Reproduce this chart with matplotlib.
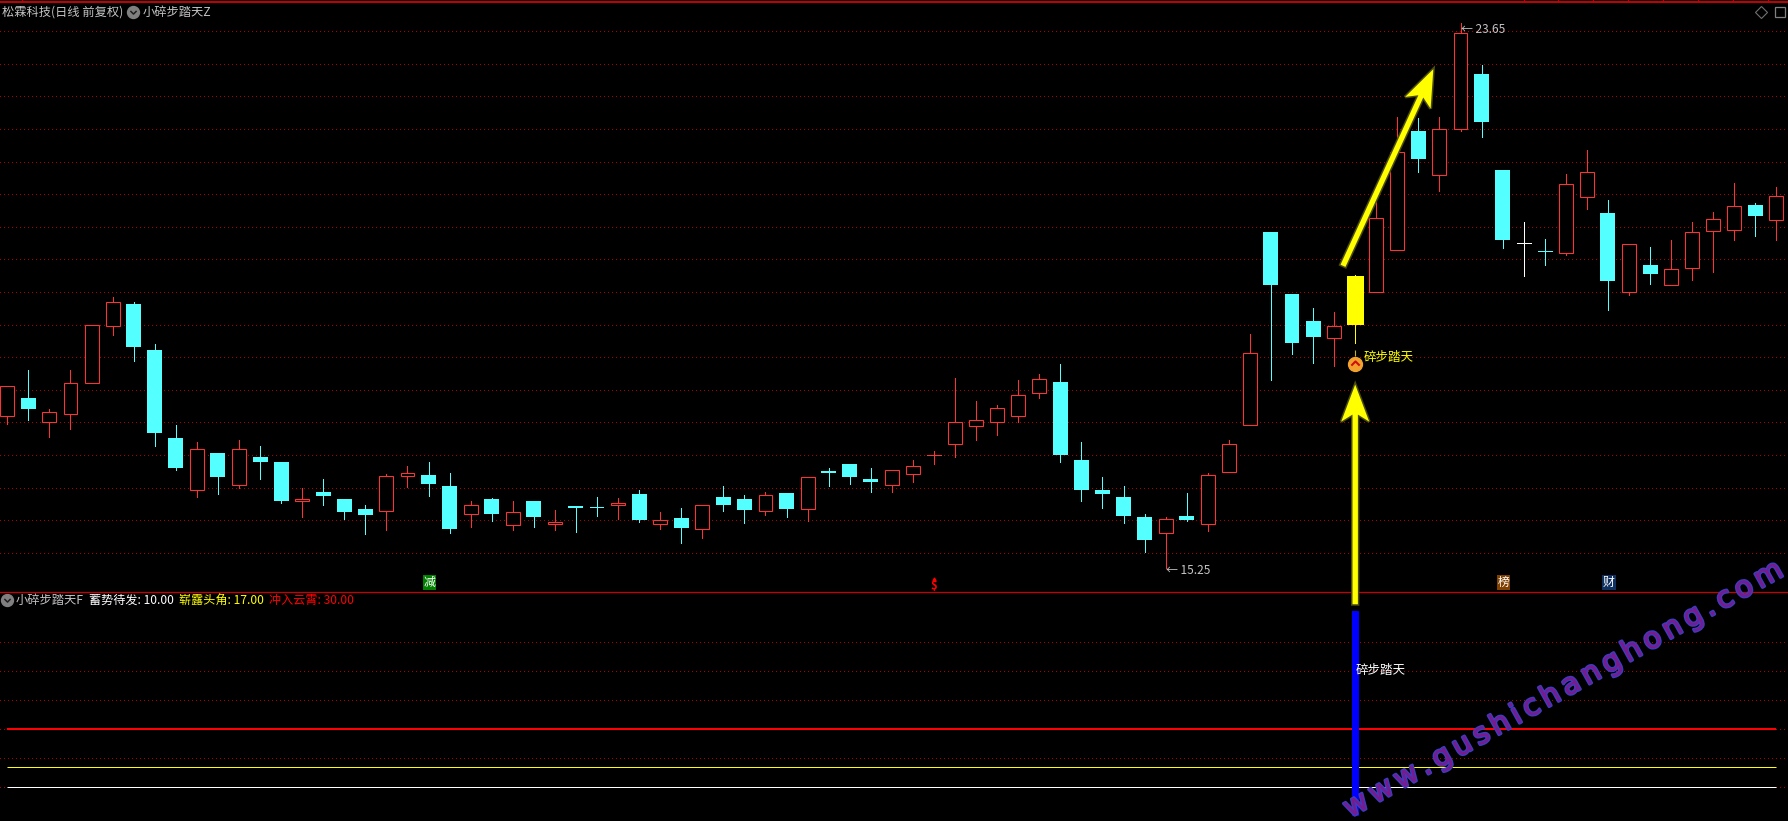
import numpy as np
import matplotlib
matplotlib.use("Agg")
import matplotlib.pyplot as plt
from matplotlib.font_manager import FontProperties
from matplotlib.lines import Line2D
from matplotlib.patches import Polygon
from matplotlib.path import Path
from matplotlib.transforms import IdentityTransform
import matplotlib.patheffects as pe

plt.rcParams['font.family'] = ['Noto Sans CJK SC', 'DejaVu Sans']

W, H = 1788, 821

opens = [17.60, 17.87, 17.50, 17.63, 18.10, 18.99, 19.32, 18.61, 17.25, 16.45,
         17.03, 16.54, 16.96, 16.88, 16.28, 16.43, 16.32, 16.17, 16.13, 16.67,
         16.69, 16.51, 16.08, 16.31, 15.91, 16.29, 15.93, 16.21, 16.20, 16.23,
         16.40, 15.93, 16.03, 15.86, 16.35, 16.32, 16.14, 16.41, 16.17, 16.75,
         16.86, 16.63, 16.53, 16.71, 17.00, 17.16, 17.44, 17.50, 17.59, 17.95,
         18.12, 16.92, 16.45, 16.35, 16.04, 15.80, 16.06, 15.93, 16.74, 17.46,
         20.43, 19.48, 19.06, 18.80, 19.75, 19.50, 20.15, 21.98, 21.31, 22.02,
         22.86, 21.39, 20.26, 20.14, 20.11, 20.97, 20.73, 19.51, 19.92, 19.62,
         19.88, 20.44, 20.46, 20.84, 20.61]
highs = [18.06, 18.30, 17.70, 18.30, 19.00, 19.43, 19.35, 18.70, 17.45, 17.19,
         17.03, 17.22, 17.14, 16.89, 16.48, 16.63, 16.32, 16.23, 16.71, 16.82,
         16.88, 16.72, 16.29, 16.34, 16.28, 16.29, 16.15, 16.21, 16.35, 16.34,
         16.46, 16.11, 16.18, 16.22, 16.52, 16.38, 16.43, 16.41, 16.66, 16.79,
         16.86, 16.80, 16.77, 16.92, 17.05, 18.18, 17.82, 17.77, 18.15, 18.25,
         18.39, 17.19, 16.66, 16.51, 16.09, 16.04, 16.41, 16.72, 17.23, 18.86,
         20.43, 19.48, 19.26, 19.20, 19.77, 20.94, 22.20, 22.18, 22.21, 23.65,
         23.00, 21.39, 20.59, 20.33, 21.33, 21.69, 20.93, 20.24, 20.20, 20.31,
         20.59, 20.74, 21.19, 20.87, 21.13]
lows = [17.47, 17.53, 17.28, 17.39, 18.10, 18.85, 18.44, 17.14, 16.77, 16.35,
        16.40, 16.49, 16.63, 16.26, 16.04, 16.23, 16.01, 15.78, 15.84, 16.50,
        16.37, 15.80, 15.89, 15.98, 15.84, 15.89, 15.84, 15.81, 16.06, 16.01,
        15.97, 15.86, 15.64, 15.72, 16.14, 15.94, 16.07, 16.04, 15.98, 16.52,
        16.55, 16.43, 16.43, 16.58, 16.85, 16.97, 17.23, 17.30, 17.51, 17.88,
        16.89, 16.28, 16.18, 15.95, 15.50, 15.25, 15.98, 15.83, 16.74, 17.46,
        18.15, 18.55, 18.41, 18.36, 18.72, 19.50, 20.15, 21.36, 21.07, 21.98,
        21.90, 20.19, 19.75, 19.92, 20.08, 20.79, 19.23, 19.46, 19.63, 19.62,
        19.69, 19.82, 20.30, 20.37, 20.30]
closes = [18.06, 17.70, 17.65, 18.11, 19.00, 19.35, 18.66, 17.34, 16.80, 17.09,
          16.66, 17.09, 16.89, 16.29, 16.32, 16.37, 16.11, 16.07, 16.67, 16.72,
          16.55, 15.86, 16.22, 16.09, 16.12, 16.04, 15.96, 16.18, 16.18, 16.26,
          16.00, 15.99, 15.87, 16.22, 16.23, 16.15, 16.38, 16.17, 16.66, 16.72,
          16.65, 16.58, 16.77, 16.83, 17.00, 17.51, 17.54, 17.72, 17.92, 18.16,
          17.00, 16.46, 16.40, 16.06, 15.69, 16.01, 16.00, 16.69, 17.17, 18.57,
          19.62, 18.72, 18.81, 18.99, 19.00, 20.65, 21.67, 21.56, 22.02, 23.49,
          22.12, 20.30, 20.26, 20.14, 21.17, 21.36, 19.68, 20.24, 19.79, 19.86,
          20.43, 20.63, 20.83, 20.67, 20.99]

# doji colours, the one yellow signal candle
doji_colors = {44: '#FF3232', 72: '#FFFFFF', 73: '#54FFFF'}
signal_index = 64

price_grid = [15.49, 15.99, 16.49, 17.00, 17.50, 18.00, 18.50, 19.00, 19.51,
              20.01, 20.51, 21.01, 21.51, 22.02, 22.52, 23.02, 23.52]
value_grid = [10, 20, 30, 40, 50, 60]

level_names = ['蓄势待发', '崭露头角', '冲入云霄']
level_values = [10.00, 17.00, 30.00]
level_colors = ['#FFFFFF', '#FFFF00', '#FF0000']
signal_value = 70.5

tag_index = [20, 71, 76]
tag_text = ['减', '榜', '财']
tag_colors = ['#007F00', '#804000', '#103060']

top_marks = [22, 1524, 1558, 1593, 1628, 1663, 1698, 1733, 1768]

RED = '#FF3232'
CYAN = '#54FFFF'
GRID = '#B00000'
FRAME = '#C80000'
TEXT = '#C4C4C4'
DOTS = (0, (1.1, 3.7))


def px(x, y):
    return x / W, 1 - y / H


def icon(x, y):
    fig.add_artist(Line2D([x / W], [1 - y / H], marker='o', ms=8.6, mfc='#808080', mec='#808080',
                          transform=fig.transFigure, ls=''))
    chevron = Path([(-1, 0.5), (0, -0.5), (1, 0.5)])
    fig.add_artist(Line2D([x / W], [1 - y / H], marker=chevron, ms=4.5, mfc='none', mec='#202020', mew=1.1,
                          transform=fig.transFigure, ls=''))


def big_arrow(start, tip):
    # start and tip are in display pixels
    start = np.array(start)
    tip = np.array(tip)
    d = (tip - start) / np.linalg.norm(tip - start)
    n = np.array([-d[1], d[0]])
    base = tip - d * 37
    notch = tip - d * 30
    pts = [start + n * 2.7, notch + n * 2.7, base + n * 14, tip, base - n * 14, notch - n * 2.7, start - n * 2.7]
    fig.add_artist(Polygon(pts, closed=True, facecolor='none', edgecolor='#4A4A14', linewidth=2.2,
                           transform=IdentityTransform(), zorder=6))
    fig.add_artist(Polygon(pts, closed=True, facecolor='#FFFF00', edgecolor='none',
                           transform=IdentityTransform(), zorder=6.1))


def spaced_watermark(text, start, end, size):
    # one text per letter, the letters are spread along the line start -> end
    prop = FontProperties(family='DejaVu Sans', size=size)
    r = fig.canvas.get_renderer()
    widths = [r.get_text_width_height_descent(ch, prop, False)[0] for ch in text]
    length = np.hypot(end[0] - start[0], end[1] - start[1])
    d = np.array([end[0] - start[0], end[1] - start[1]]) / length
    gap = (length - sum(widths)) / (len(text) - 1)
    angle = np.degrees(np.arctan2(start[1] - end[1], end[0] - start[0]))
    pos = 0
    for ch, w in zip(text, widths):
        x, y = np.array(start) + d * pos
        fig.text(*px(x, y), ch, color='#7A1A8C', fontproperties=prop, rotation=angle, rotation_mode='anchor',
                 ha='left', va='baseline', zorder=7,
                 path_effects=[pe.withStroke(linewidth=2.0, foreground='#3C3CC0')])
        pos += w + gap


fig = plt.figure(figsize=(W / 100, H / 100), dpi=100, facecolor='black')
ax = fig.add_axes([0, 1 - 591 / H, 1, 591 / H])
ax2 = fig.add_axes([0, 0, 1, (H - 592) / H])
x_range = (-0.347, 84.55)

for a in (ax, ax2):
    a.set_facecolor('black')
    a.set_xlim(x_range)
    a.set_xticks([])
    a.set_yticks([])
    for s in a.spines.values():
        s.set_visible(False)
ax.set_ylim(14.90, 24.005)
ax2.set_ylim(-1.56, 77)

# grid
for g in price_grid:
    ax.axhline(g, color=GRID, lw=0.6, ls=DOTS, zorder=1, antialiased=False)
for g in value_grid:
    ax2.axhline(g, color=GRID, lw=0.6, ls=DOTS, zorder=1, antialiased=False)

# candles
for i in range(len(opens)):
    o, h, l, c = opens[i], highs[i], lows[i], closes[i]
    if i == signal_index:
        col = '#FFFF00'
    elif i in doji_colors:
        col = doji_colors[i]
    elif c > o:
        col = RED
    else:
        col = CYAN
    ax.vlines(i, l, h, color=col, lw=0.72, zorder=2, antialiased=False)
    if o == c:
        ax.hlines(o, i - 0.33, i + 0.33, color=col, lw=0.72, zorder=3, antialiased=False)
    elif c > o:
        ax.bar(i, c - o, bottom=o, width=0.66, facecolor='black', edgecolor=col, linewidth=0.75, zorder=3)
    elif i == signal_index:
        ax.bar(i, o - c, bottom=c, width=0.8, facecolor=col, edgecolor='none', zorder=3)
    else:
        ax.bar(i, o - c, bottom=c, width=0.71, facecolor=col, edgecolor='none', zorder=3)

# frame lines
fig.add_artist(Line2D([0, 1], [1 - 2.5 / H] * 2, color=FRAME, lw=1.4, transform=fig.transFigure))
fig.add_artist(Line2D([0, 1], [1 - 591.5 / H] * 2, color=FRAME, lw=0.9, transform=fig.transFigure))
for m in top_marks:
    fig.add_artist(Line2D([m / W, m / W], [1, 1 - 2 / H], color=FRAME, lw=0.7, transform=fig.transFigure))

# indicator pane
n = len(opens) - 1
for value, col, width in zip(level_values, level_colors, [0.72, 0.72, 1.44]):
    ax2.plot([0, n], [value, value], color=col, lw=width, zorder=2, solid_capstyle='butt')
ax2.bar(signal_index, signal_value, width=0.34, color='#0000FF', zorder=3)
ax2.text(signal_index, 50, '碎步踏天', color='white', fontsize=9, va='center', ha='left', zorder=4)

# price extremes
ax.annotate('← 23.65', xy=(69, 23.65), xytext=(0, -5), textcoords='offset points', color=TEXT, fontsize=8.6,
            va='center', ha='left', zorder=5)
ax.annotate('← 15.25', xy=(55, 15.25), xytext=(0, -1.5), textcoords='offset points', color=TEXT, fontsize=8.6,
            va='center', ha='left', zorder=5)

# signal marker
ax.plot([signal_index], [18.40], marker='o', ms=10, mfc='#F2A22E', mec='#F2A22E', ls='', zorder=5)
ax.plot([signal_index], [18.42], marker=Path([(-1, -0.5), (0, 0.5), (1, -0.5)]), ms=6, mfc='none', mec='#D01010',
        mew=1.5, ls='', zorder=6)
ax.plot([signal_index], [18.56], marker='|', ms=4, mec='#C8B020', mew=0.8, ls='', zorder=5)
ax.text(signal_index + 0.4, 18.50, '碎步踏天', color='#FFFF00', fontsize=9, va='center', ha='left', zorder=5)

# small tags on the pane border
for i, t, bg in zip(tag_index, tag_text, tag_colors):
    ax.text(i + 0.05, 15.03, t, color='white', fontsize=8.6, ha='center', va='center', zorder=5,
            bbox=dict(boxstyle='square,pad=0.05', facecolor=bg, edgecolor='none'))
ax.text(44, 14.98, '$', color='#FF0000', fontsize=8, fontweight='bold', ha='center', va='center', zorder=5)
ax.plot([44], [15.08], marker='^', ms=2.2, mfc='#FF0000', mec='#FF0000', ls='', zorder=5)

# header texts
fig.text(*px(2, 12.5), '松霖科技(日线 前复权)', color=TEXT, fontsize=8.8, va='center', ha='left')
icon(132.5, 12.5)
fig.text(*px(143, 12.5), '小碎步踏天Z', color=TEXT, fontsize=8.8, va='center', ha='left')
icon(7, 600)
fig.text(*px(16, 600.5), '小碎步踏天F', color=TEXT, fontsize=8.8, va='center', ha='left')
label_x = [89, 179, 269]
for name, value, col, x in zip(level_names, level_values, level_colors, label_x):
    fig.text(*px(x, 600.5), '%s: %.2f' % (name, value), color=col, fontsize=8.7, va='center', ha='left')

# top right buttons
fig.add_artist(Line2D([1761 / W], [1 - 12.5 / H], marker='D', ms=6.5, mfc='none', mec='#707070', mew=0.8, ls='',
                      transform=fig.transFigure))
fig.add_artist(Line2D([1780 / W], [1 - 12.5 / H], marker='s', ms=7.5, mfc='none', mec='#808080', mew=0.9, ls='',
                      transform=fig.transFigure))

# hand drawn arrows, anchored on the data
fig.canvas.draw()
big_arrow(ax2.transData.transform((signal_index, 72.8)), ax.transData.transform((signal_index, 18.08)))
big_arrow(ax.transData.transform((63.42, 19.91)), ax.transData.transform((67.71, 22.94)))

# watermark
spaced_watermark('www.gushichanghong.com', (1350, 818), (1785, 575), 21)

fig.savefig('out.png', dpi=100, facecolor='black')
